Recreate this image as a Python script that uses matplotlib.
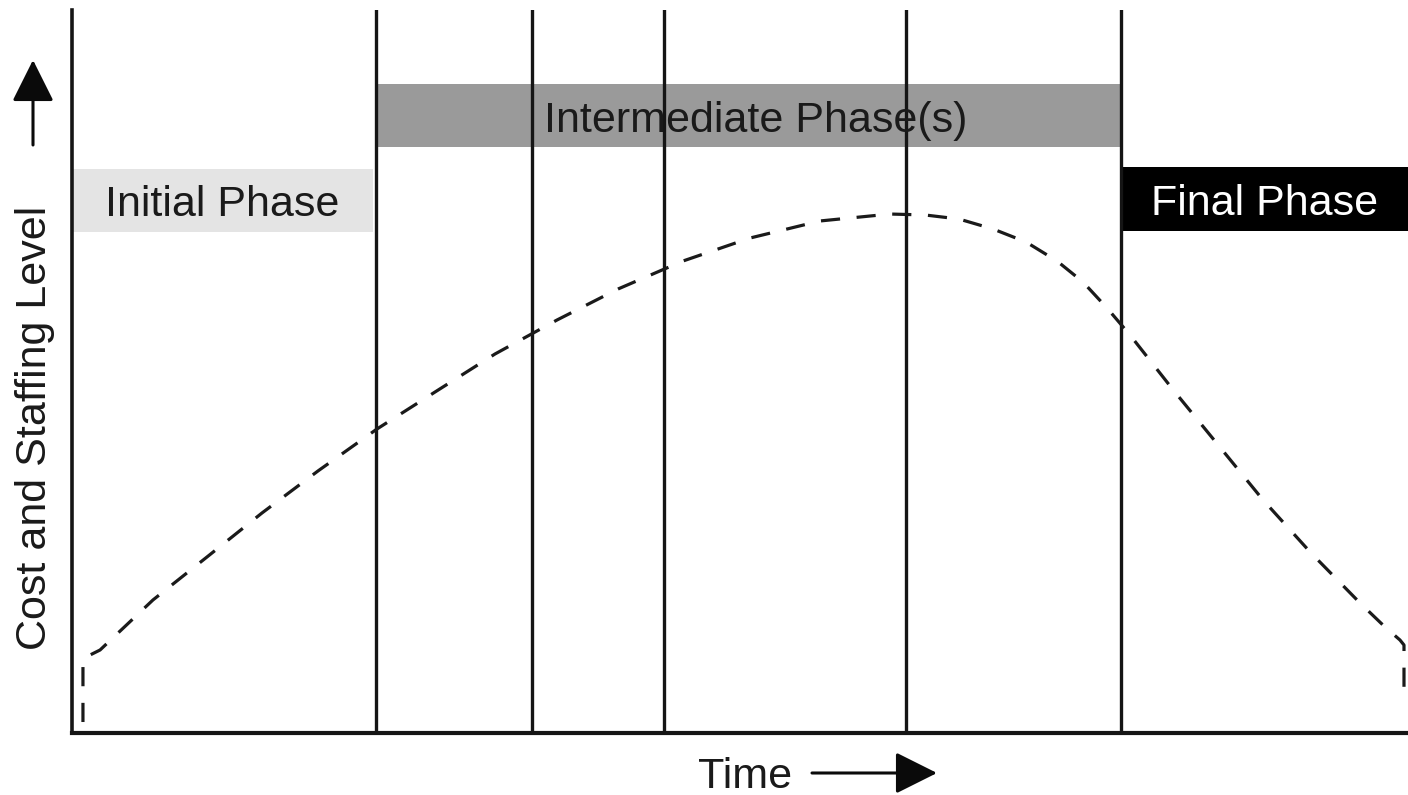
import matplotlib
matplotlib.use('Agg')
import matplotlib.pyplot as plt

plt.rcParams['font.family'] = ['Liberation Sans', 'DejaVu Sans']

# phase boundaries along the time axis (0..100)
fronteiras = [22.75, 34.4, 44.3, 62.4, 78.5]

# phase bars: name, start, end, bottom, top (0..100 scale)
fases = ['Initial Phase', 'Intermediate Phase(s)', 'Final Phase']
fase_inicio = [0, 22.75, 78.5]
fase_fim = [22.5, 78.5, 100]
fase_base = [69.3, 81.0, 69.4]
fase_topo = [78.0, 89.8, 78.3]
fase_cores = ['#e4e4e4', '#9a9a9a', '#000000']
fase_texto = ['#1a1a1a', '#1a1a1a', '#ffffff']
desloc_texto = [0, 5, 0]  # small horizontal nudge of the labels, in points

# cost / staffing curve
tempo = [0.82, 0.82, 1.20, 2.10, 6.06, 10.10, 14.22, 18.41, 22.83, 27.17, 31.66, 36.30,
         40.87, 45.73, 50.75, 55.99, 61.23, 63.85, 66.39, 68.94, 71.41, 73.73, 75.67,
         77.47, 79.19, 82.49, 85.85, 89.15, 92.74, 96.41, 98.28, 99.40, 99.70, 99.70]
nivel = [1.52, 10.10, 10.65, 11.48, 18.40, 24.34, 30.43, 36.24, 42.05, 47.16, 52.42, 57.12,
         61.41, 65.28, 68.46, 70.82, 71.78, 71.65, 71.09, 69.71, 67.91, 65.28, 62.38,
         58.78, 55.05, 47.30, 39.70, 32.23, 24.90, 17.98, 14.66, 12.86, 12.17, 4.56]

W, H = 1408, 795
fig = plt.figure(figsize=(W / 100, H / 100), dpi=100)
ax = fig.add_axes([72 / W, (H - 733) / H, (W - 72) / W, (733 - 10) / H])
ax.set_xlim(0, 100)
ax.set_ylim(0, 100)

for nome, x0, x1, y0, y1, cor, ct, dx in zip(fases, fase_inicio, fase_fim, fase_base, fase_topo,
                                            fase_cores, fase_texto, desloc_texto):
    ax.fill_between([x0, x1], y0, y1, color=cor, lw=0, zorder=1)
    ax.annotate(nome, ((x0 + x1) / 2, (y0 + y1) / 2), xytext=(dx, -11.5),
                textcoords='offset points', ha='center', va='baseline',
                fontsize=31, color=ct, zorder=3)

for xb in fronteiras:
    ax.axvline(xb, color='#151515', lw=2.4, zorder=2)

ax.plot(tempo, nivel, color='#1a1a1a', lw=2.3, dashes=(6, 5.2), zorder=4)

ax.spines['top'].set_visible(False)
ax.spines['right'].set_visible(False)
ax.spines['left'].set_linewidth(2.6)
ax.spines['bottom'].set_linewidth(3)
ax.spines['left'].set_color('#151515')
ax.spines['bottom'].set_color('#151515')
ax.set_xticks([])
ax.set_yticks([])

# axis labels with arrows
fig.text(35 / W, 1 - 428 / H, 'Cost and Staffing Level', rotation=90,
         ha='center', va='center', fontsize=31, color='#1a1a1a')
fig.text(745 / W, 1 - 788 / H, 'Time', ha='center', va='baseline', fontsize=31, color='#1a1a1a')
seta = dict(arrowstyle='-|>,head_length=2.6,head_width=1.3', lw=2.2, color='#0a0a0a',
            mutation_scale=10, shrinkA=0, shrinkB=0)
ax.annotate('', xy=(33, H - 60), xytext=(33, H - 145), xycoords='figure pixels',
            textcoords='figure pixels', arrowprops=seta)
ax.annotate('', xy=(937, H - 773), xytext=(812, H - 773), xycoords='figure pixels',
            textcoords='figure pixels', arrowprops=seta)

fig.savefig('out.png', dpi=100)
